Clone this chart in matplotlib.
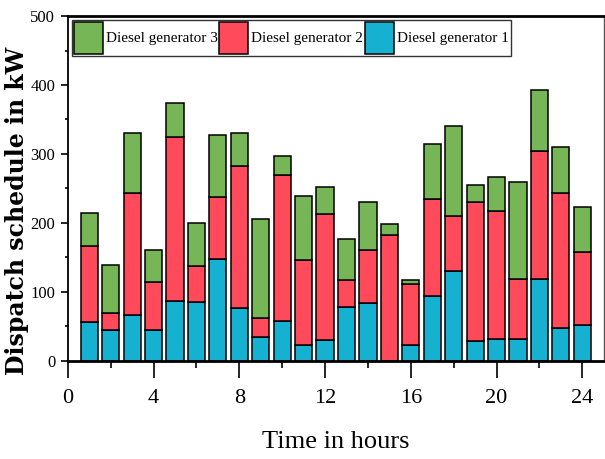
import numpy as np
import matplotlib.pyplot as plt

# Данные: почасовая выработка трёх дизель-генераторов, кВт
hours = np.arange(1, 25)
gen1 = [56, 44, 67, 44, 87, 85, 147, 76, 34, 57, 23, 30,
        78, 84, 0, 23, 94, 130, 28, 32, 32, 119, 48, 52]
gen2 = [111, 25, 177, 70, 238, 52, 90, 206, 28, 213, 123, 183,
        39, 76, 183, 89, 140, 80, 203, 185, 86, 185, 195, 106]
gen3 = [48, 70, 87, 46, 49, 63, 90, 49, 143, 27, 93, 39,
        59, 70, 16, 5, 80, 130, 24, 50, 142, 89, 67, 65]

c1, c2, c3 = '#16b1d0', '#fe4a5a', '#76b657'

plt.rcParams['font.family'] = ['Liberation Serif', 'DejaVu Serif']

fig = plt.figure(figsize=(6.05, 4.59), dpi=100)
ax = fig.add_axes([0.112, 0.214, 0.886, 0.751])

bottom2 = np.array(gen1)
bottom3 = bottom2 + np.array(gen2)
b1 = ax.bar(hours, gen1, width=0.8, color=c1, edgecolor='black', linewidth=1.1,
            label='Diesel generator 1')
b2 = ax.bar(hours, gen2, width=0.8, bottom=bottom2, color=c2, edgecolor='black',
            linewidth=1.1, label='Diesel generator 2')
b3 = ax.bar(hours, gen3, width=0.8, bottom=bottom3, color=c3, edgecolor='black',
            linewidth=1.1, label='Diesel generator 3')

ax.set_xlim(0, 25)
ax.set_ylim(0, 500)
ax.set_xticks(range(0, 25, 4))
ax.set_xticks(range(2, 25, 4), minor=True)
ax.set_yticks(range(0, 501, 100))
ax.set_yticks(range(50, 500, 100), minor=True)

ax.tick_params(axis='x', which='major', direction='out', length=12, width=1.2,
               labelsize=16, pad=8)
ax.tick_params(axis='x', which='minor', direction='out', length=5, width=1.2)
ax.tick_params(axis='y', which='major', direction='out', length=5, width=1.2,
               labelsize=12, pad=4)
ax.tick_params(axis='y', which='minor', direction='out', length=2, width=1.2)

for s in ax.spines.values():
    s.set_color('black')
    s.set_linewidth(1.3)
ax.spines['top'].set_linewidth(2)
ax.spines['bottom'].set_linewidth(2)
ax.spines['right'].set_linewidth(1.0)
ax.spines['right'].set_color('#555555')

ax.set_xlabel('Time in hours', fontsize=19, labelpad=17)
ax.set_ylabel('Dispatch schedule in kW', fontsize=17, fontweight='bold',
              family='DejaVu Serif')
ax.yaxis.set_label_coords(-0.073, 0.434)

leg = ax.legend(handles=[b3, b2, b1], ncol=3, loc='upper left', fontsize=11,
                frameon=True, fancybox=False, edgecolor='black',
                handlelength=1.9, handleheight=2.8, handletextpad=0.2,
                columnspacing=0.1, borderpad=0.15, borderaxespad=0.25)
leg.get_frame().set_linewidth(1.0)

plt.savefig('out.png', dpi=100)
